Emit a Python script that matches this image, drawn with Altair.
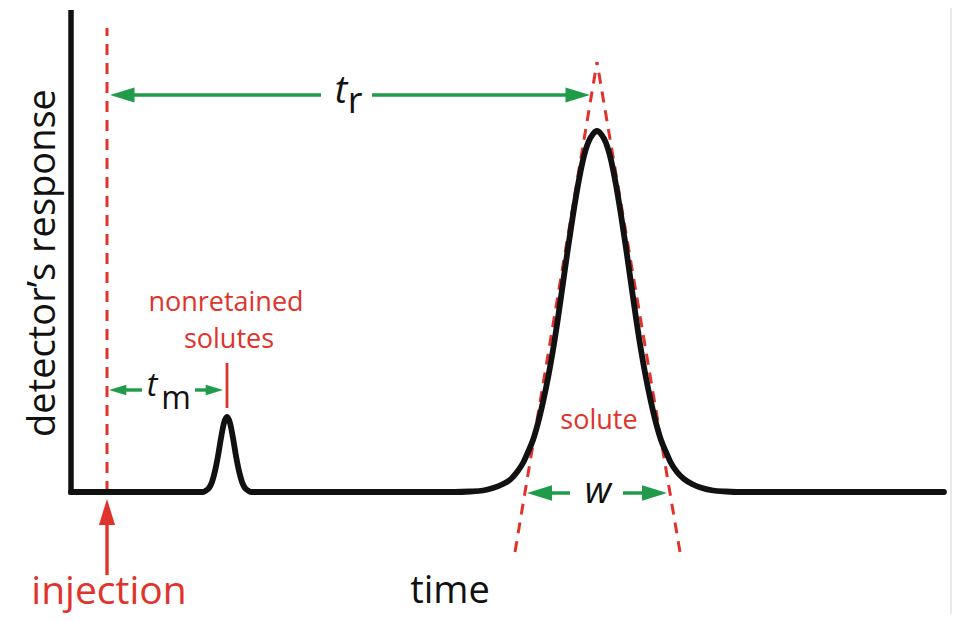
import altair as alt
import pandas as pd

# ---------------- data (time / response units) ----------------
# chromatogram trace: baseline, nonretained peak, solute peak
trace_time = [0.0, 13.2, 13.5, 13.8, 14.1, 14.4, 14.7, 15.0, 15.3, 15.6, 15.9, 16.2, 16.5,
              16.8, 17.1, 17.4, 17.7, 18.0,
              38.4, 39.9, 41.2, 42.2, 43.2, 44.0, 44.6, 45.2, 45.7, 46.2, 46.7, 47.2, 47.7,
              48.2, 48.7, 49.2, 49.7, 50.2, 50.7, 51.2, 51.7, 52.2, 52.6,
              53.0, 53.5, 54.0, 54.5, 55.0, 55.5, 56.0, 56.5, 57.0, 57.5, 58.0, 58.5, 59.0,
              59.5, 60.0, 60.6, 61.3, 62.1, 63.1, 64.2, 65.5, 66.9, 87.3]
trace_resp = [0.0, 0.0, 0.15, 0.4, 1.0, 2.1, 3.6, 5.4, 6.9, 7.5, 6.9, 5.4, 3.6,
              2.1, 1.0, 0.4, 0.15, 0.0,
              0.0, 0.05, 0.15, 0.4, 0.8, 1.3, 2.0, 2.9, 4.0, 5.2, 6.9, 9.0, 11.4,
              14.2, 17.4, 20.9, 24.4, 27.7, 30.7, 33.2, 34.9, 35.8, 36.1,
              35.8, 34.9, 33.2, 30.7, 27.7, 24.4, 20.9, 17.4, 14.2, 11.4, 9.0, 6.9, 5.2,
              4.0, 2.9, 2.0, 1.3, 0.8, 0.4, 0.15, 0.05, 0.0, 0.0]

t_injection = 3.6        # injection time
t_nonretained = 15.6     # t_m
t_solute = 52.6          # t_r
axis_top = 48.2
injection_top = 46.4

# tangent lines of the solute peak (time, response at both ends)
tangent_t1 = [44.4, 60.9]
tangent_r1 = [-6.0, -6.0]
tangent_t2 = [52.6, 52.6]
tangent_r2 = [43.0, 43.0]

# arrow shafts
shaft_x = [5.0, 30.1, 4.5, 12.4, 46.5, 55.2, 3.6]
shaft_x2 = [25.0, 51.0, 7.1, 14.5, 49.9, 58.7, 3.6]
shaft_y = [39.7, 39.7, 10.2, 10.2, -0.1, -0.1, -2.0]
shaft_y2 = [39.7, 39.7, 10.2, 10.2, -0.1, -0.1, -8.3]
shaft_color = ["#1f9b4a"] * 6 + ["#e0332b"]

# arrow heads
head_x = [3.9, 51.9, 3.8, 15.2, 45.6, 59.6, 3.6]
head_y = [39.7, 39.7, 10.2, 10.2, -0.1, -0.1, -0.7]
head_angle = [180, 0, 180, 0, 180, 0, 270]
head_size = [600, 600, 300, 300, 625, 625, 676]
head_color = ["#1f9b4a"] * 6 + ["#e0332b"]

# labels
italic_text = ["t", "t", "w"]
italic_x = [27.0, 8.1, 52.7]
italic_y = [38.9, 9.6, -1.1]
italic_size = [38, 32, 37]

sub_text = ["r", "m"]
sub_x = [28.4, 10.5]
sub_y = [37.9, 8.3]
sub_size = [36, 32]

red_text = ["nonretained", "solutes", "solute", "injection"]
red_x = [15.5, 15.8, 52.8, 3.8]
red_y = [18.1, 14.4, 6.3, -11.2]
red_size = [27, 27, 27, 39]

time_label = ["time"]
time_x = [37.9]
time_y = [-11.1]

ytitle = ["detector\u2019s response"]
ytitle_x = [-1.6]
ytitle_y = [22.9]

strip_x = [87.9]
strip_x2 = [88.1]

# ---------------- chart ----------------
RED = "#e0332b"
FONT = "Open Sans"
xs = alt.Scale(domain=[-6.3, 88.1], nice=False, zero=False)
ys = alt.Scale(domain=[-12.2, 48.4], nice=False, zero=False)


def X(f):
    return alt.X(f, type="quantitative", scale=xs, axis=None)


def Y(f):
    return alt.Y(f, type="quantitative", scale=ys, axis=None)


strip = alt.Chart(pd.DataFrame({"x": strip_x, "x2": strip_x2})).mark_rect(
    color="#e9e9e9").encode(x=X("x"), x2="x2", y=alt.value(0), y2=alt.value(606))

inj_line = alt.Chart(pd.DataFrame({"x": [t_injection], "y": [0.0], "y2": [injection_top]})).mark_rule(
    color=RED, strokeWidth=3, strokeDash=[11, 8]).encode(x=X("x"), y=Y("y"), y2="y2")

tangents = alt.Chart(pd.DataFrame({"x": tangent_t1, "y": tangent_r1, "x2": tangent_t2, "y2": tangent_r2})).mark_rule(
    color=RED, strokeWidth=3, strokeDash=[11, 8]).encode(x=X("x"), y=Y("y"), x2="x2", y2="y2")

axis_line = alt.Chart(pd.DataFrame({"x": [0.0], "y": [-0.25], "y2": [axis_top]})).mark_rule(
    color="#111111", strokeWidth=5.5).encode(x=X("x"), y=Y("y"), y2="y2")

trace = alt.Chart(pd.DataFrame({"time": trace_time, "resp": trace_resp})).mark_line(
    color="#111111", strokeWidth=5.8, interpolate="monotone", strokeJoin="round", strokeCap="round"
).encode(x=X("time"), y=Y("resp"))

tick = alt.Chart(pd.DataFrame({"x": [t_nonretained], "y": [8.4], "y2": [12.9]})).mark_rule(
    color=RED, strokeWidth=2.8).encode(x=X("x"), y=Y("y"), y2="y2")

shafts = alt.Chart(pd.DataFrame({"x": shaft_x, "x2": shaft_x2, "y": shaft_y, "y2": shaft_y2,
                                 "c": shaft_color})).mark_rule(strokeWidth=3.4).encode(
    x=X("x"), x2="x2", y=Y("y"), y2="y2", color=alt.Color("c:N", scale=None))

heads = alt.Chart(pd.DataFrame({"x": head_x, "y": head_y, "a": head_angle, "s": head_size,
                                "c": head_color})).mark_point(
    shape="M 0 0 L -2 -0.62 L -2 0.62 Z", filled=True, opacity=1, strokeWidth=0).encode(
    x=X("x"), y=Y("y"), angle=alt.Angle("a:Q", scale=None), size=alt.Size("s:Q", scale=None),
    color=alt.Color("c:N", scale=None))

italic = alt.Chart(pd.DataFrame({"x": italic_x, "y": italic_y, "t": italic_text, "s": italic_size})).mark_text(
    font=FONT, fontStyle="italic", color="#111111", align="center", baseline="alphabetic").encode(
    x=X("x"), y=Y("y"), text="t:N", size=alt.Size("s:Q", scale=None))

subs = alt.Chart(pd.DataFrame({"x": sub_x, "y": sub_y, "t": sub_text, "s": sub_size})).mark_text(
    font=FONT, color="#111111", align="center", baseline="alphabetic").encode(
    x=X("x"), y=Y("y"), text="t:N", size=alt.Size("s:Q", scale=None))

reds = alt.Chart(pd.DataFrame({"x": red_x, "y": red_y, "t": red_text, "s": red_size})).mark_text(
    font=FONT, color=RED, align="center", baseline="alphabetic").encode(
    x=X("x"), y=Y("y"), text="t:N", size=alt.Size("s:Q", scale=None))

time_txt = alt.Chart(pd.DataFrame({"x": time_x, "y": time_y, "t": time_label})).mark_text(
    font=FONT, fontSize=38, color="#111111", align="center", baseline="alphabetic").encode(
    x=X("x"), y=Y("y"), text="t:N")

ytitle_txt = alt.Chart(pd.DataFrame({"x": ytitle_x, "y": ytitle_y, "t": ytitle})).mark_text(
    font=FONT, fontSize=38, color="#111111", align="center", baseline="alphabetic", angle=270).encode(
    x=X("x"), y=Y("y"), text="t:N")

chart = alt.layer(
    strip, tangents, inj_line, axis_line, trace, tick, shafts, heads,
    italic, subs, reds, time_txt, ytitle_txt
).properties(
    width=944, height=606, padding=0,
    autosize=alt.AutoSizeParams(type="none"),
    background="white",
).configure_view(stroke=None)

chart.save("out.html", embed_options={"renderer": "svg", "actions": False})
